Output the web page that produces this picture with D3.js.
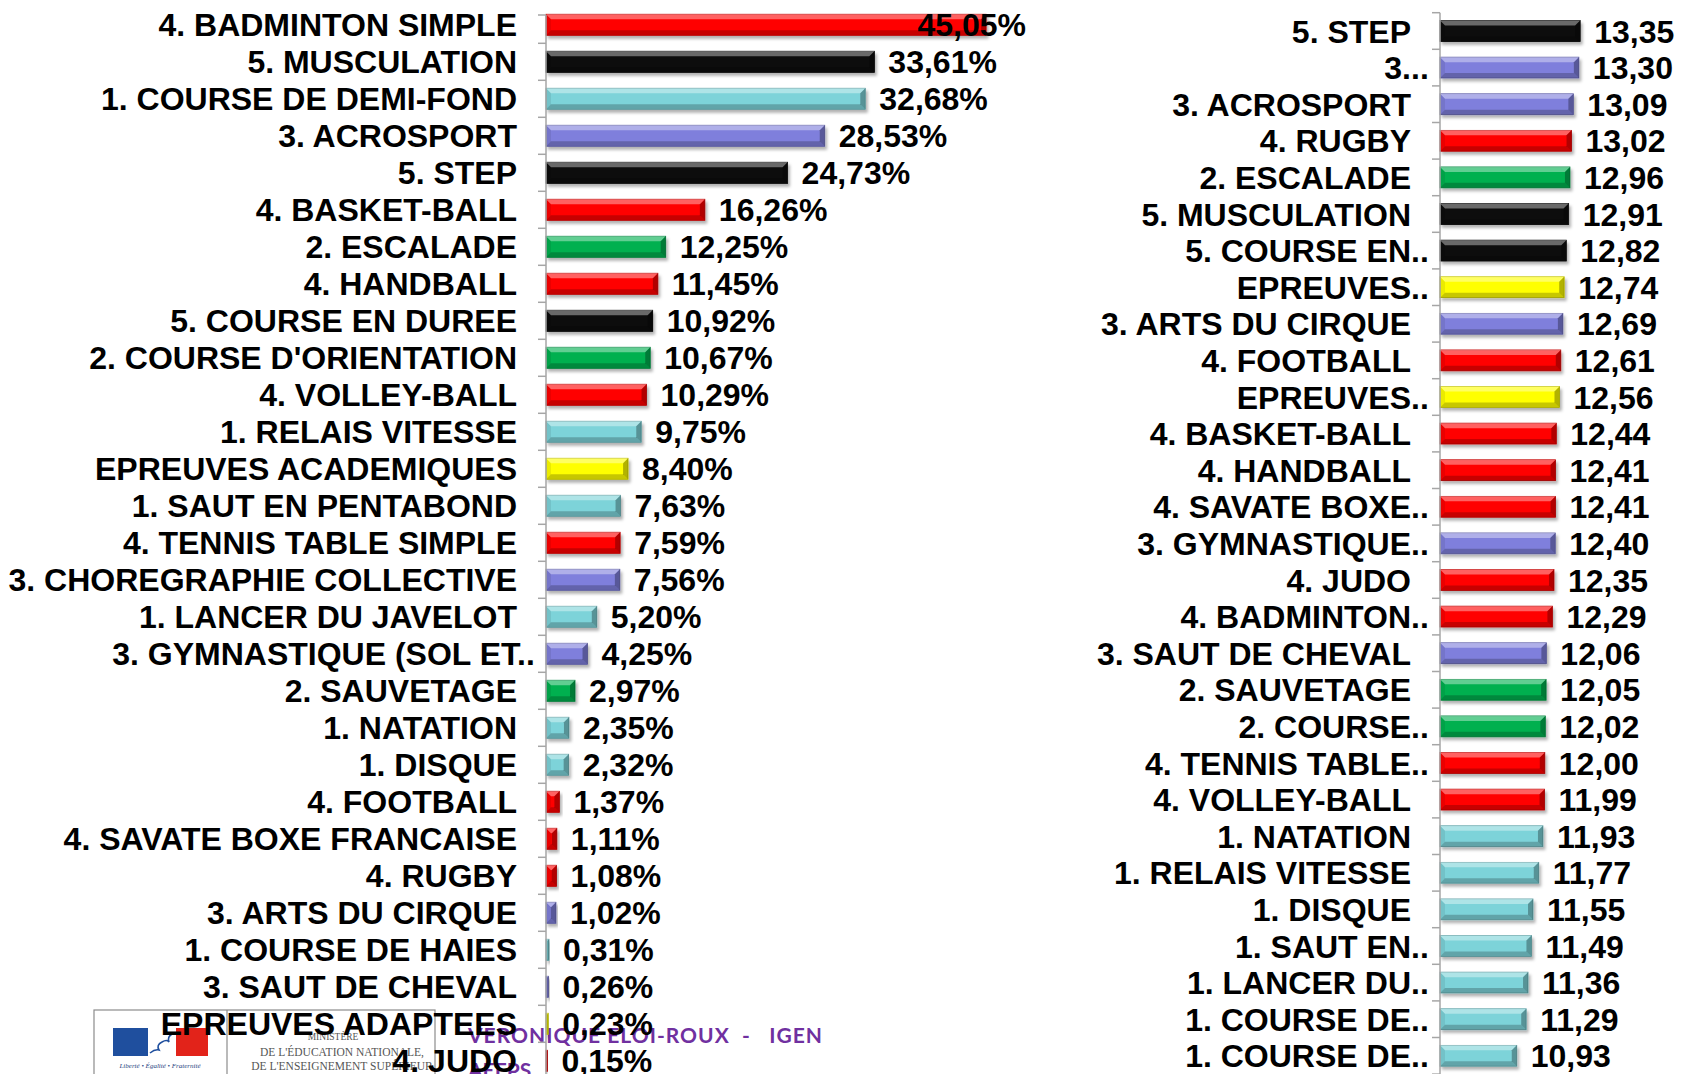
<!DOCTYPE html>
<html>
<head>
<meta charset="utf-8">
<script src="https://cdn.jsdelivr.net/npm/d3@7"></script>
<style>
  body { margin: 0; background: #fff; }
  svg { display: block; }
</style>
</head>
<body>
<div id="chart"></div>
<script>
// données - part des effectifs (%) à gauche, moyennes à droite
const leftNames = [
  '4. BADMINTON SIMPLE', '5. MUSCULATION', '1. COURSE DE DEMI-FOND', '3. ACROSPORT', '5. STEP',
  '4. BASKET-BALL', '2. ESCALADE', '4. HANDBALL', '5. COURSE EN DUREE', "2. COURSE D'ORIENTATION",
  '4. VOLLEY-BALL', '1. RELAIS VITESSE', 'EPREUVES ACADEMIQUES', '1. SAUT EN PENTABOND', '4. TENNIS TABLE SIMPLE',
  '3. CHOREGRAPHIE COLLECTIVE', '1. LANCER DU JAVELOT', '3. GYMNASTIQUE (SOL ET..', '2. SAUVETAGE', '1. NATATION',
  '1. DISQUE', '4. FOOTBALL', '4. SAVATE BOXE FRANCAISE', '4. RUGBY', '3. ARTS DU CIRQUE',
  '1. COURSE DE HAIES', '3. SAUT DE CHEVAL', 'EPREUVES ADAPTEES', '4. JUDO'
];
const leftValues = [
  45.05, 33.61, 32.68, 28.53, 24.73,
  16.26, 12.25, 11.45, 10.92, 10.67,
  10.29, 9.75, 8.40, 7.63, 7.59,
  7.56, 5.20, 4.25, 2.97, 2.35,
  2.32, 1.37, 1.11, 1.08, 1.02,
  0.31, 0.26, 0.23, 0.15
];

const rightNames = [
  '5. STEP', '3...', '3. ACROSPORT', '4. RUGBY', '2. ESCALADE',
  '5. MUSCULATION', '5. COURSE EN..', 'EPREUVES..', '3. ARTS DU CIRQUE', '4. FOOTBALL',
  'EPREUVES..', '4. BASKET-BALL', '4. HANDBALL', '4. SAVATE BOXE..', '3. GYMNASTIQUE..',
  '4. JUDO', '4. BADMINTON..', '3. SAUT DE CHEVAL', '2. SAUVETAGE', '2. COURSE..',
  '4. TENNIS TABLE..', '4. VOLLEY-BALL', '1. NATATION', '1. RELAIS VITESSE', '1. DISQUE',
  '1. SAUT EN..', '1. LANCER DU..', '1. COURSE DE..', '1. COURSE DE..'
];
const rightValues = [
  13.35, 13.30, 13.09, 13.02, 12.96,
  12.91, 12.82, 12.74, 12.69, 12.61,
  12.56, 12.44, 12.41, 12.41, 12.40,
  12.35, 12.29, 12.06, 12.05, 12.02,
  12.00, 11.99, 11.93, 11.77, 11.55,
  11.49, 11.36, 11.29, 10.93
];

const width = 1683;
const height = 1074;
const font = '"Liberation Sans", Arial, sans-serif';
const fontSize = 32;

// couleur selon la famille d'activité (premier caractère)
const familyColor = { '1': '#7dd3d9', '2': '#00b050', '3': '#7f7fdc', '4': '#ff0000', '5': '#0a0a0a' };
const colorOf = name => familyColor[name[0]] || '#ffff00';

const svg = d3.select('#chart')
  .append('svg')
  .attr('width', width)
  .attr('height', height)
  .attr('viewBox', [0, 0, width, height]);

const defs = svg.append('defs');
defs.append('filter')
  .attr('id', 'shadow')
  .attr('x', '-10%').attr('y', '-30%').attr('width', '130%').attr('height', '180%')
  .append('feDropShadow')
  .attr('dx', 2).attr('dy', 3).attr('stdDeviation', 1.8)
  .attr('flood-color', '#000').attr('flood-opacity', 0.3);

defs.append('clipPath').attr('id', 'boxclip')
  .append('rect').attr('x', 227).attr('y', 1010).attr('width', 208).attr('height', 64);

// ---- logo du ministère + signature (sous le graphique)
const logo = svg.append('g');
logo.append('rect')
  .attr('x', 94).attr('y', 1010).attr('width', 341).attr('height', 80)
  .attr('fill', '#fff').attr('stroke', '#8c8c8c').attr('stroke-width', 1.2);
logo.append('line')
  .attr('x1', 227).attr('x2', 227).attr('y1', 1010).attr('y2', 1074)
  .attr('stroke', '#8c8c8c').attr('stroke-width', 1.2);
logo.append('rect').attr('x', 113).attr('y', 1028).attr('width', 35).attr('height', 28).attr('fill', '#1f4f9e');
logo.append('rect').attr('x', 176).attr('y', 1028).attr('width', 32).attr('height', 28).attr('fill', '#e2231a');
logo.append('path')
  .attr('d', 'M150,1053 q5,-4 9,-3 q-3,-5 3,-8 q5,-3 7,0 q-2,-5 3,-8')
  .attr('fill', 'none').attr('stroke', '#1f4f9e').attr('stroke-width', 1.6);
logo.append('text')
  .attr('x', 160).attr('y', 1068)
  .attr('text-anchor', 'middle')
  .attr('font-family', '"Liberation Serif", serif')
  .attr('font-style', 'italic')
  .attr('font-size', 7)
  .attr('fill', '#1f3f80')
  .text('Liberté • Égalité • Fraternité');

const minis = logo.append('g')
  .attr('clip-path', 'url(#boxclip)')
  .attr('font-family', '"Liberation Serif", "DejaVu Serif", serif')
  .attr('fill', '#555')
  .attr('text-anchor', 'middle');
minis.append('text').attr('x', 333).attr('y', 1040).attr('font-size', 9.5).text('MINISTÈRE');
minis.append('text').attr('x', 342).attr('y', 1056).attr('font-size', 11.5).text("DE L'ÉDUCATION NATIONALE,");
minis.append('text').attr('x', 342).attr('y', 1070).attr('font-size', 11.5).text("DE L'ENSEIGNEMENT SUPÉRIEUR");

const sign = svg.append('g')
  .attr('font-family', 'Lato, "Open Sans", sans-serif')
  .attr('font-weight', 'bold')
  .attr('font-size', 21)
  .attr('fill', '#7030a0');
sign.append('text')
  .attr('x', 468).attr('y', 1043)
  .attr('xml:space', 'preserve')
  .style('white-space', 'pre')
  .attr('textLength', 354)
  .text('VERONIQUE ELOI-ROUX  -   IGEN');
sign.append('text').attr('x', 468).attr('y', 1078).text('AEEPS');

// ---- dessin d'un panneau de barres horizontales
function drawPanel({ names, values, x, y, axisTop, fmt, labelLimit }) {
  const g = svg.append('g');
  const x0 = x.range()[0];
  const step = y.step();
  const bw = y.bandwidth();
  const gap = (step - bw) / 2;

  // barres
  const bars = g.selectAll('g.bar')
    .data(values.map((v, i) => ({ v, i, name: names[i] })))
    .join('g')
      .attr('class', 'bar');

  bars.each(function (d) {
    const sel = d3.select(this);
    const bx = x0;
    const by = y(d.i);
    const w = Math.max(1, x(d.v) - x0);
    const h = bw;
    const c = colorOf(d.name);
    const b = Math.min(5, w / 2);
    sel.append('rect')
      .attr('x', bx).attr('y', by).attr('width', w).attr('height', h)
      .attr('fill', c)
      .attr('stroke', d3.color(c).darker(0.8))
      .attr('stroke-width', 0.8)
      .attr('filter', 'url(#shadow)');
    const poly = (pts, fill, op) => sel.append('polygon')
      .attr('points', pts.map(p => p.join(',')).join(' '))
      .attr('fill', fill).attr('opacity', op);
    poly([[bx, by], [bx + w, by], [bx + w - b, by + b], [bx + b, by + b]], '#fff', 0.38);
    poly([[bx, by + h], [bx + w, by + h], [bx + w - b, by + h - b], [bx + b, by + h - b]], '#000', 0.22);
    poly([[bx, by], [bx + b, by + b], [bx + b, by + h - b], [bx, by + h]], '#000', 0.08);
    poly([[bx + w, by], [bx + w - b, by + b], [bx + w - b, by + h - b], [bx + w, by + h]], '#000', 0.3);
  });

  // axe des catégories
  const ax = g.append('g')
    .attr('transform', `translate(${x0},0)`)
    .call(d3.axisLeft(y).tickFormat(i => names[i]).tickSize(0).tickPadding(29));
  ax.select('.domain').remove();
  ax.selectAll('text')
    .attr('font-family', font)
    .attr('font-weight', 'bold')
    .attr('font-size', fontSize)
    .attr('fill', '#000')
    .attr('dy', '0.36em')
    .each(function (i) {
      // les libellés tronqués débordent de leurs ".."
      if (names[i].endsWith('..')) {
        const n = names[i].length;
        const dw = this.getSubStringLength(n - 2, 2);
        d3.select(this).attr('x', -29 + dw);
      }
    });

  const lines = g.append('g').attr('stroke', '#a6a6a6').attr('stroke-width', 1.5);
  lines.append('line')
    .attr('x1', x0).attr('x2', x0)
    .attr('y1', axisTop).attr('y2', y.range()[1]);
  const tickYs = d3.range(names.length + 1)
    .map(i => i < names.length ? y(i) - gap : y(names.length - 1) + bw + gap)
    .map(t => Math.max(t, axisTop));
  lines.selectAll('line.tick')
    .data(tickYs)
    .join('line')
      .attr('class', 'tick')
      .attr('x1', x0 - 8).attr('x2', x0)
      .attr('y1', t => t)
      .attr('y2', t => t);

  // étiquettes de valeurs
  g.append('g')
    .selectAll('text')
    .data(values)
    .join('text')
      .attr('font-family', font)
      .attr('font-weight', 'bold')
      .attr('font-size', fontSize)
      .attr('fill', '#000')
      .attr('y', (d, i) => y(i) + bw / 2)
      .attr('dy', '0.36em')
      .text(fmt)
      .attr('x', function (d) {
        const w = this.getComputedTextLength();
        const lx = x(d) + 14;
        return lx + w > labelLimit ? labelLimit - w : lx;
      });
}

const commaFmt = d3.format('.2f');

const yLeft = d3.scaleBand()
  .domain(d3.range(leftNames.length))
  .range([6.3, 6.3 + leftNames.length * 37])
  .paddingInner(0.43)
  .paddingOuter(0.215);
const xLeft = d3.scaleLinear().domain([0, 50]).range([546, 1034.5]);

const yRight = d3.scaleBand()
  .domain(d3.range(rightNames.length))
  .range([12.7, 12.7 + rightNames.length * 36.6])
  .paddingInner(0.43)
  .paddingOuter(0.215);
const xRight = d3.scaleLinear().domain([8, 16]).range([1440, 1649.6]);

drawPanel({
  names: leftNames, values: leftValues, x: xLeft, y: yLeft, axisTop: 15,
  fmt: d => commaFmt(d).replace('.', ',') + '%', labelLimit: 1026
});
drawPanel({
  names: rightNames, values: rightValues, x: xRight, y: yRight, axisTop: 12.7,
  fmt: d => commaFmt(d).replace('.', ','), labelLimit: 1683
});
</script>
</body>
</html>
